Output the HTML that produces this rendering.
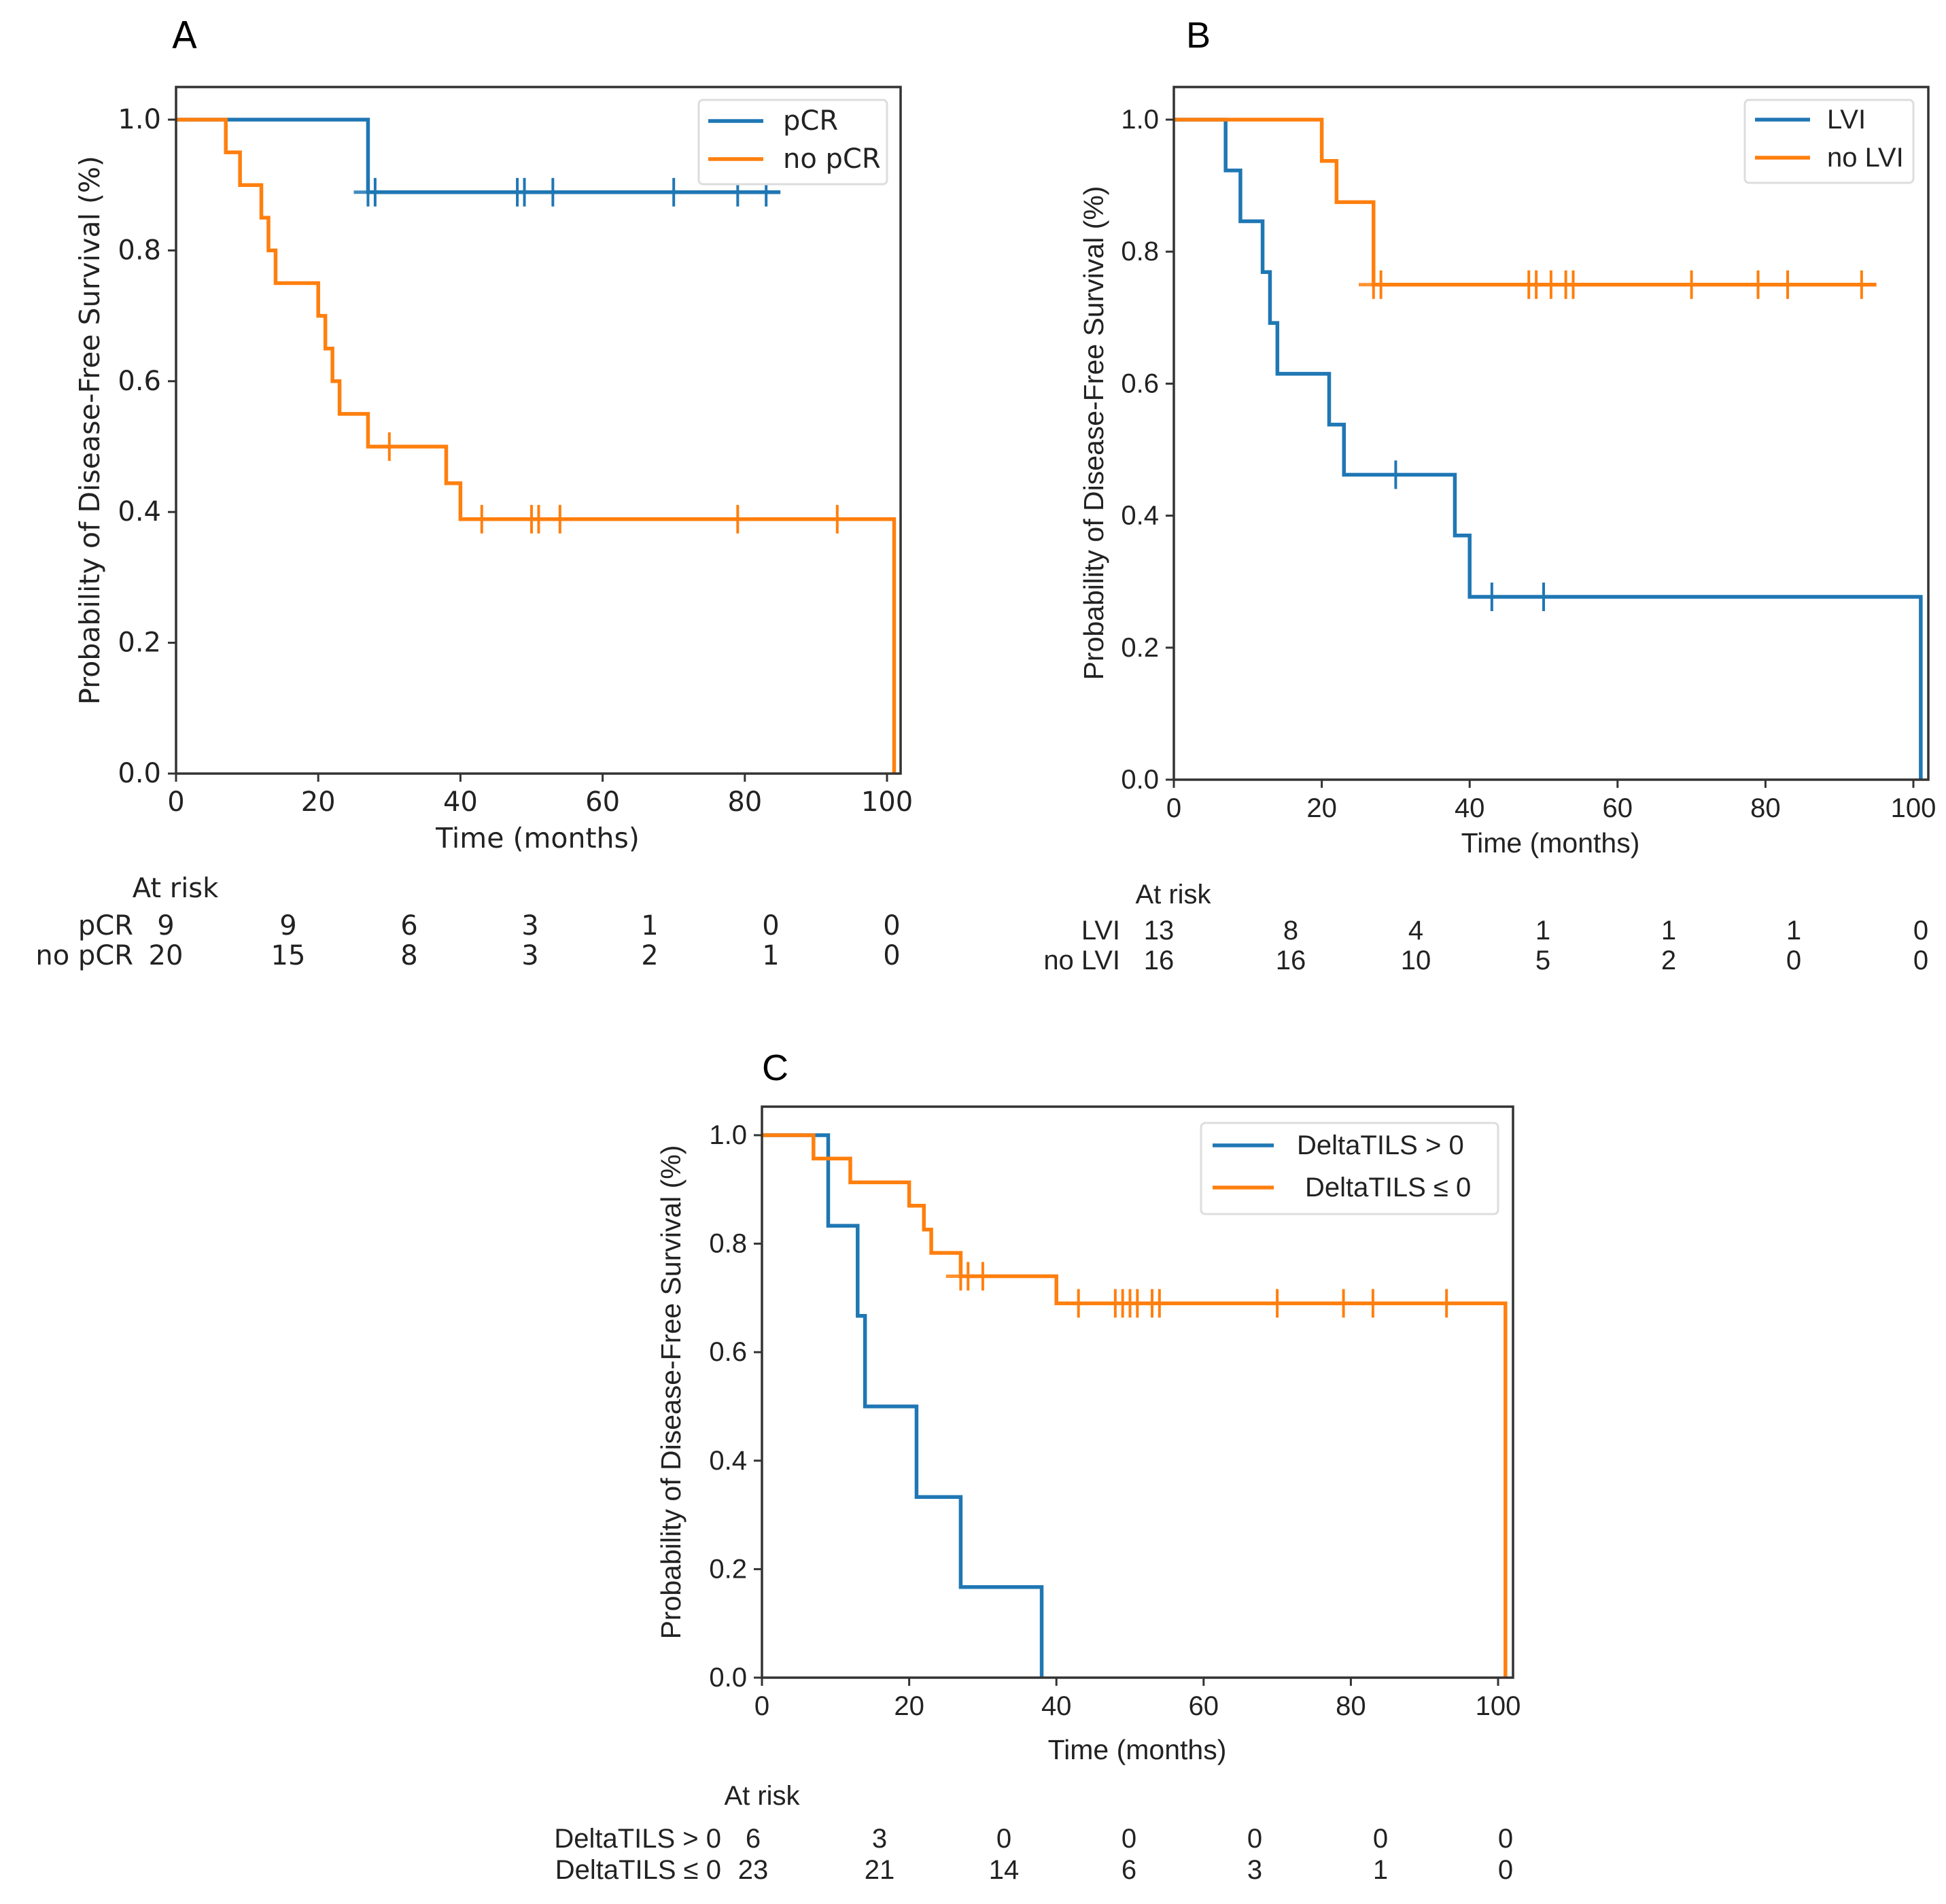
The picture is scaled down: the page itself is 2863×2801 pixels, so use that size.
<!DOCTYPE html>
<html><head><meta charset="utf-8"><style>
html,body{margin:0;padding:0;background:#fff;}
svg{display:block;}
</style></head><body>
<svg id="fig" width="2863" height="2801" viewBox="0 0 2863 2801" xmlns="http://www.w3.org/2000/svg"></svg>
<script>
// ---- Panel A data ----
const aTicksX = [0,20,40,60,80,100];
const aTicksY = [0.0,0.2,0.4,0.6,0.8,1.0];
const aPcrEventT = [27];
const aPcrEventS = [0.889];
const aPcrCensor = [27,28,48,49,53,70,79,83];
const aNoPcrEventT = [7,9,12,13,14,20,21,22,23,27,38,40,101];
const aNoPcrEventS = [0.95,0.90,0.85,0.80,0.75,0.70,0.65,0.60,0.55,0.50,0.444,0.389,0.0];
const aNoPcrCensor = [30,43,50,51,54,79,93];
const aRiskPcr = [9,9,6,3,1,0,0];
const aRiskNoPcr = [20,15,8,3,2,1,0];
// ---- Panel B data ----
const bLviEventT = [7,9,12,13,14,21,23,38,40,101];
const bLviEventS = [0.923,0.846,0.769,0.692,0.615,0.538,0.462,0.37,0.277,0.0];
const bLviCensor = [30,43,50];
const bNoLviEventT = [20,22,27];
const bNoLviEventS = [0.9375,0.875,0.75];
const bNoLviCensor = [27,28,48,49,51,53,54,70,79,83,93];
const bRiskLvi = [13,8,4,1,1,1,0];
const bRiskNoLvi = [16,16,10,5,2,0,0];
// ---- Panel C data ----
const cPosEventT = [9,13,14,21,27,38];
const cPosEventS = [0.833,0.667,0.5,0.333,0.167,0.0];
const cPosCensor = [];
const cNegEventT = [7,12,20,22,23,27,40,101];
const cNegEventS = [0.957,0.913,0.87,0.826,0.783,0.74,0.69,0.0];
const cNegCensor = [27,28,30,43,48,49,50,51,53,54,70,79,83,93];
const cRiskPos = [6,3,0,0,0,0,0];
const cRiskNeg = [23,21,14,6,3,1,0];

const NS='http://www.w3.org/2000/svg';
const svg=document.getElementById('fig');
const BLUE='#1f77b4', ORANGE='#ff7f0e';
const FS=40;
function mk(tag,attrs,parent){const e=document.createElementNS(NS,tag);for(const k in attrs)e.setAttribute(k,attrs[k]);(parent||svg).appendChild(e);return e;}
function txt(s,x,y,size,anchor,font,parent,extra){const t=mk('text',Object.assign({x:x,y:y,'font-size':size,'text-anchor':anchor,'font-family':font,fill:'#222','dominant-baseline':'central'},extra||{}),parent);t.textContent=s;return t;}

function panel(cfg){
  const g=mk('g',{});
  
  
  const X=v=>cfg.x0+(cfg.x100-cfg.x0)*v/100;
  const Y=v=>cfg.bottom-(cfg.bottom-cfg.y1)*v;
  const F=cfg.font;
  cfg.series.forEach(s=>{
    const sg=mk('g',{},g);
    
    
    let d='M'+X(0)+','+Y(1);let cur=1;
    const evs=s.t.map((t,i)=>[t,s.s[i]]);
    evs.forEach(([t,v])=>{d+=' L'+X(t)+','+Y(cur)+' L'+X(t)+','+Y(v);cur=v;});
    const last=Math.max(s.end||0,...s.censor,0);
    if(last>evs[evs.length-1][0]) d+=' L'+X(last)+','+Y(cur);
    const p=mk('path',{d:d,fill:'none',stroke:s.color,'stroke-width':5.5},sg);
    
    
    if(s.bandStart!==undefined){
      const lvl=s.bandLevel;
      const b=mk('line',{x1:X(s.bandStart),x2:X(s.bandEnd),y1:Y(lvl),y2:Y(lvl),stroke:s.color,'stroke-width':5,opacity:0.85},sg);
      
      
    }
    s.censor.forEach(c=>{
      let v=1;evs.forEach(([t,sv])=>{if(t<=c)v=sv;});
      const m=mk('line',{x1:X(c),x2:X(c),y1:Y(v)-21,y2:Y(v)+21,stroke:s.color,'stroke-width':4},sg);
      
      
    });
  });
  const fr=mk('rect',{x:cfg.left,y:cfg.top,width:cfg.right-cfg.left,height:cfg.bottom-cfg.top,fill:'none',stroke:'#333','stroke-width':3.5},g);
  
  
  aTicksX.forEach(t=>{
    const l=mk('line',{x1:X(t),x2:X(t),y1:cfg.bottom,y2:cfg.bottom+12,stroke:'#333','stroke-width':3},g);
    
    
    const tt=txt(String(t),X(t),cfg.bottom+42,FS,'middle',F,g);
    
    
  });
  aTicksY.forEach(t=>{
    const l=mk('line',{x1:cfg.left-12,x2:cfg.left,y1:Y(t),y2:Y(t),stroke:'#333','stroke-width':3},g);
    
    
    const tt=txt(t.toFixed(1),cfg.left-22,Y(t),FS,'end',F,g);
    
    
  });
  const xl=txt('Time (months)',cfg.xlabX,cfg.xlabY,41,'middle',F,g);
  
  
  const yl=txt('Probability of Disease-Free Survival (%)',0,0,41,'middle',F,g,{transform:'translate('+cfg.ylabX+','+cfg.ylabY+') rotate(-90)'});
  
  
  const pl=txt(cfg.letter,cfg.letterX,cfg.letterY,54,'start',F,g,{fill:'#000'});
  
  
  const lg=mk('g',{},g);
  
  
  const L=cfg.legend;
  mk('rect',{x:L.x,y:L.y,width:L.w,height:L.h,rx:6,fill:'#fff',stroke:'#ddd','stroke-width':3},lg);
  cfg.series.forEach((s,i)=>{
    const ry=L.rows[i];
    const e=mk('g',{},lg);
    
    
    mk('line',{x1:L.lx1,x2:L.lx2,y1:ry,y2:ry,stroke:s.color,'stroke-width':5.5},e);
    txt(s.label,L.tx+(s.labelShift||0),ry,FS,'start',F,e);
  });
  const rt=mk('g',{},g);
  
  
  txt('At risk',cfg.risk.atX,cfg.risk.atY,FS,'middle',F,rt);
  cfg.series.forEach((s,i)=>{
    const ry=cfg.risk.rows[i];
    txt(s.label.replace(/^\s+/,''),cfg.risk.labX,ry,FS,'end',F,rt);
    s.risk.forEach((n,j)=>{
      const c=txt(String(n),cfg.risk.cols[j],ry,FS,'middle',F,rt);
      
      
    });
  });
}

panel({name:'panel-a',letter:'A',letterX:253,letterY:52,font:'"DejaVu Sans","Liberation Sans",sans-serif',
  left:259,right:1325,top:128,bottom:1138,x0:259,x100:1305,y1:176,
  xlabX:791,xlabY:1233,ylabX:132,ylabY:633,
  legend:{x:1028,y:147,w:277,h:124,rows:[178,234],lx1:1042,lx2:1123,tx:1152},
  risk:{atX:258,atY:1307,labX:196,rows:[1362,1406],cols:[244,424,602,780,956,1134,1312]},
  series:[
    {name:'series-pcr',label:'pCR',color:BLUE,t:aPcrEventT,s:aPcrEventS,censor:aPcrCensor,end:85,bandStart:25,bandEnd:85,bandLevel:0.889,risk:aRiskPcr},
    {name:'series-no-pcr',label:'no pCR',color:ORANGE,t:aNoPcrEventT,s:aNoPcrEventS,censor:aNoPcrCensor,risk:aRiskNoPcr}
  ]});

panel({name:'panel-b',letter:'B',letterX:1745,letterY:52,font:'"Liberation Sans",sans-serif',
  left:1727,right:2837,top:128,bottom:1147,x0:1727,x100:2815,y1:176,
  xlabX:2281,xlabY:1240,ylabX:1609,ylabY:637,
  legend:{x:2567,y:147,w:248,h:122,rows:[176,232],lx1:2582,lx2:2663,tx:2688},
  risk:{atX:1726,atY:1316,labX:1648,rows:[1369,1413],cols:[1705,1899,2083,2270,2455,2639,2826]},
  series:[
    {name:'series-lvi',label:'LVI',color:BLUE,t:bLviEventT,s:bLviEventS,censor:bLviCensor,risk:bRiskLvi},
    {name:'series-no-lvi',label:'no LVI',color:ORANGE,t:bNoLviEventT,s:bNoLviEventS,censor:bNoLviCensor,end:95,bandStart:25,bandEnd:95,bandLevel:0.75,risk:bRiskNoLvi}
  ]});

panel({name:'panel-c',letter:'C',letterX:1121,letterY:1571,font:'"Liberation Sans",sans-serif',
  left:1121,right:2226,top:1628,bottom:2468,x0:1121,x100:2204,y1:1670,
  xlabX:1673,xlabY:2574,ylabX:987,ylabY:2048,
  legend:{x:1767,y:1652,w:437,h:134,rows:[1685,1747],lx1:1784,lx2:1874,tx:1908},
  risk:{atX:1121,atY:2642,labX:1061,rows:[2705,2751],cols:[1108,1294,1477,1661,1846,2031,2215]},
  series:[
    {name:'series-deltatils-pos',label:'DeltaTILS > 0',color:BLUE,t:cPosEventT,s:cPosEventS,censor:cPosCensor,risk:cRiskPos},
    {name:'series-deltatils-nonpos',label:'DeltaTILS \u2264 0',labelShift:12,color:ORANGE,t:cNegEventT,s:cNegEventS,censor:cNegCensor,bandStart:25,bandEnd:40,bandLevel:0.74,risk:cRiskNeg}
  ]});
</script>
</body></html>
